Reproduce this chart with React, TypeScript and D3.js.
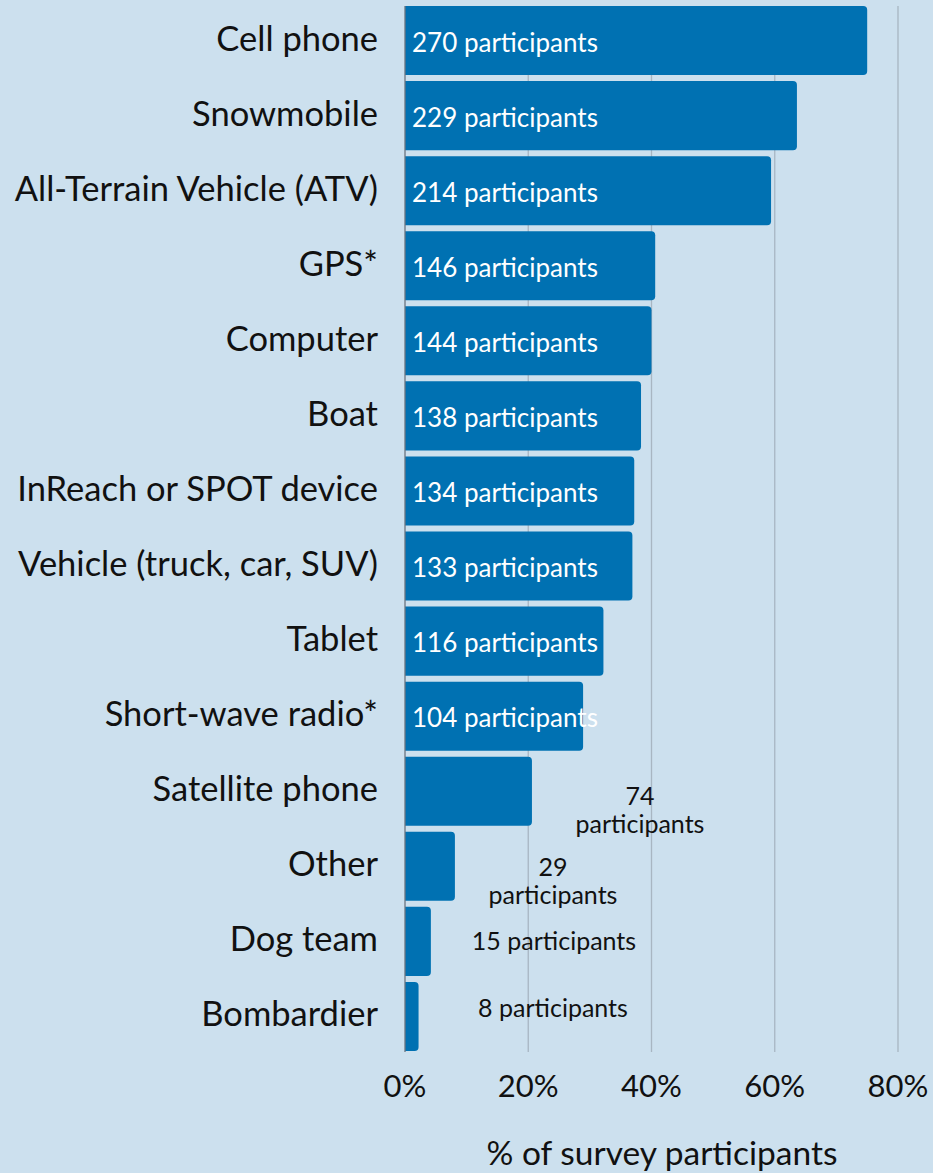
import React, { useRef, useEffect } from 'react';
import * as d3 from 'd3';

// devices used by survey participants
const categories = [
  'Cell phone',
  'Snowmobile',
  'All-Terrain Vehicle (ATV)',
  'GPS*',
  'Computer',
  'Boat',
  'InReach or SPOT device',
  'Vehicle (truck, car, SUV)',
  'Tablet',
  'Short-wave radio*',
  'Satellite phone',
  'Other',
  'Dog team',
  'Bombardier',
];
// % of survey participants
const percents = [75.0, 63.6, 59.4, 40.6, 40.0, 38.3, 37.2, 36.9, 32.2, 28.9, 20.6, 8.1, 4.2, 2.2];
const participants = [270, 229, 214, 146, 144, 138, 134, 133, 116, 104, 74, 29, 15, 8];
const xTicks = [0, 20, 40, 60, 80];

const W = 933;
const H = 1173;
const FONT = 'Lato, "Open Sans", sans-serif';

const App = () => {
  const svgRef = useRef<SVGSVGElement>(null);

  useEffect(() => {
    const svg = d3.select(svgRef.current);
    svg.selectAll('*').remove();

    const x = d3.scaleLinear().domain([0, 80]).range([405, 898]);
    const y = d3.scaleBand().domain(categories).range([3, 1054]).paddingInner(0.08).paddingOuter(0.04);

    svg.append('rect').attr('width', W).attr('height', H).attr('fill', '#cce0ee');

    // gridlines
    svg.append('g')
      .selectAll('line')
      .data(xTicks.slice(1))
      .enter().append('line')
      .attr('x1', d => x(d)).attr('x2', d => x(d))
      .attr('y1', 6).attr('y2', 1052)
      .attr('stroke', '#a8b6c2').attr('stroke-width', 1.3);

    // bars with rounded right ends
    const r = 4;
    svg.append('g')
      .selectAll('path')
      .data(categories)
      .enter().append('path')
      .attr('fill', '#0071b2')
      .attr('d', (c, i) => {
        const x0 = x(0);
        const x1 = x(percents[i]);
        const y0 = y(c)!;
        const h = y.bandwidth();
        const rr = Math.min(r, (x1 - x0) / 2);
        return `M${x0},${y0}H${x1 - rr}Q${x1},${y0} ${x1},${y0 + rr}V${y0 + h - rr}Q${x1},${y0 + h} ${x1 - rr},${y0 + h}H${x0}Z`;
      });

    // axis line
    svg.append('line')
      .attr('x1', x(0)).attr('x2', x(0))
      .attr('y1', 6).attr('y2', 1052)
      .attr('stroke', '#6b7580').attr('stroke-width', 1.3);

    // category labels
    svg.append('g')
      .selectAll('text')
      .data(categories)
      .enter().append('text')
      .attr('x', 378)
      .attr('y', c => y(c)! + y.bandwidth() / 2)
      .attr('dy', '0.29em')
      .attr('text-anchor', 'end')
      .attr('font-family', FONT)
      .attr('font-size', 34.5)
      .attr('fill', '#111')
      .text(c => c);

    // value labels inside the long bars
    const inside = categories.slice(0, 10);
    svg.append('g')
      .selectAll('text')
      .data(inside)
      .enter().append('text')
      .attr('x', x(0) + 7)
      .attr('y', c => y(c)! + y.bandwidth() / 2 + 11)
      .attr('font-family', FONT)
      .attr('font-size', 26)
      .attr('fill', '#fff')
      .text((c, i) => `${participants[i]} participants`);

    // value labels outside the short bars
    const outside = [
      { i: 10, cx: 640, split: true, dy: 14 },
      { i: 11, cx: 553, split: true, dy: 10 },
      { i: 12, cx: 554, split: false, dy: 9 },
      { i: 13, cx: 553, split: false, dy: 1 },
    ];
    outside.forEach(o => {
      const c = categories[o.i];
      const lines = o.split ? [`${participants[o.i]}`, 'participants'] : [`${participants[o.i]} participants`];
      lines.forEach((l, k) => {
        svg.append('text')
          .attr('text-anchor', 'middle')
          .attr('font-family', FONT)
          .attr('font-size', 25)
          .attr('fill', '#111')
          .attr('x', o.cx)
          .attr('y', y(c)! + y.bandwidth() / 2 + o.dy + k * 28)
          .text(l);
      });
    });

    // x tick labels
    svg.append('g')
      .selectAll('text')
      .data(xTicks)
      .enter().append('text')
      .attr('x', d => x(d))
      .attr('y', 1097)
      .attr('text-anchor', 'middle')
      .attr('font-family', FONT)
      .attr('font-size', 31)
      .attr('fill', '#111')
      .text(d => `${d}%`);

    svg.append('text')
      .attr('x', 662)
      .attr('y', 1165)
      .attr('text-anchor', 'middle')
      .attr('font-family', FONT)
      .attr('font-size', 33.5)
      .attr('fill', '#111')
      .text('% of survey participants');
  }, []);

  return (
    <svg
      ref={svgRef}
      width={W}
      height={H}
      style={{ position: 'absolute', left: 0, top: 0, display: 'block' }}
    />
  );
};

export default App;
